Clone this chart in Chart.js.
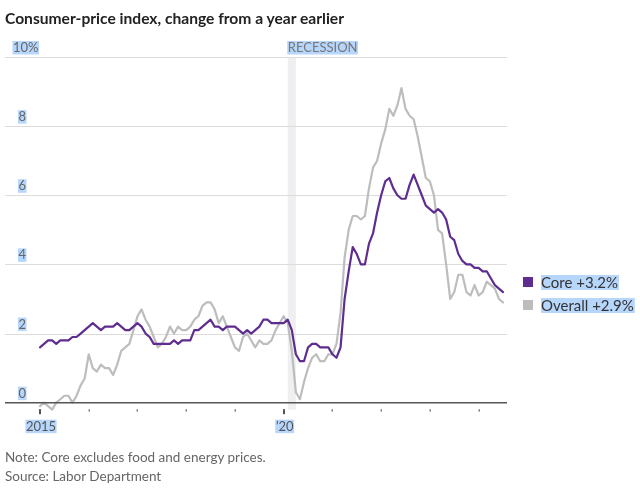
<!DOCTYPE html>
<html><head><meta charset="utf-8">
<script src="https://cdn.jsdelivr.net/npm/chart.js@4.4.1/dist/chart.umd.min.js"></script>
<style>
html,body{margin:0;padding:0;background:#fff;}
#wrap{position:relative;width:640px;height:490px;overflow:hidden;}
canvas{position:absolute;left:0;top:0;}
#title{position:absolute;left:5px;top:8px;font:700 15.6px Lato,sans-serif;line-height:20px;color:#222;white-space:nowrap;}
.note{position:absolute;left:5px;font:400 13.5px Lato,sans-serif;line-height:20px;color:#666;white-space:nowrap;}
</style></head>
<body>
<div id="wrap">
<canvas id="c" width="640" height="490"></canvas>
<div id="title">Consumer-price index, change from a year earlier</div>
<div class="note" style="top:447px">Note: Core excludes food and energy prices.</div>
<div class="note" style="top:466px">Source: Labor Department</div>
</div>
<script>
// Monthly data, January 2015 through July 2024 (year-over-year % change)
const startYear = 2015;
const core = [
  1.6,1.7,1.8,1.8,1.7,1.8,1.8,1.8,1.9,1.9,2.0,2.1,
  2.2,2.3,2.2,2.1,2.2,2.2,2.2,2.3,2.2,2.1,2.1,2.2,
  2.3,2.2,2.0,1.9,1.7,1.7,1.7,1.7,1.7,1.8,1.7,1.8,
  1.8,1.8,2.1,2.1,2.2,2.3,2.4,2.2,2.2,2.1,2.2,2.2,
  2.2,2.1,2.0,2.1,2.0,2.1,2.2,2.4,2.4,2.3,2.3,2.3,
  2.3,2.4,2.1,1.4,1.2,1.2,1.6,1.7,1.7,1.6,1.6,1.6,
  1.4,1.3,1.6,3.0,3.8,4.5,4.3,4.0,4.0,4.6,4.9,5.5,
  6.0,6.4,6.5,6.2,6.0,5.9,5.9,6.3,6.6,6.3,6.0,5.7,
  5.6,5.5,5.6,5.5,5.3,4.8,4.7,4.3,4.1,4.0,4.0,3.9,
  3.9,3.8,3.8,3.6,3.4,3.3,3.2
];
const overall = [
  -0.1,0.0,-0.1,-0.2,0.0,0.1,0.2,0.2,0.0,0.2,0.5,0.7,
  1.4,1.0,0.9,1.1,1.0,1.0,0.8,1.1,1.5,1.6,1.7,2.1,
  2.5,2.7,2.4,2.2,1.9,1.6,1.7,1.9,2.2,2.0,2.2,2.1,
  2.1,2.2,2.4,2.5,2.8,2.9,2.9,2.7,2.3,2.5,2.2,1.9,
  1.6,1.5,1.9,2.0,1.8,1.6,1.8,1.7,1.7,1.8,2.1,2.3,
  2.5,2.3,1.5,0.3,0.1,0.6,1.0,1.3,1.4,1.2,1.2,1.4,
  1.4,1.7,2.6,4.2,5.0,5.4,5.4,5.3,5.4,6.2,6.8,7.0,
  7.5,7.9,8.5,8.3,8.6,9.1,8.5,8.3,8.2,7.7,7.1,6.5,
  6.4,6.0,5.0,4.9,4.0,3.0,3.2,3.7,3.7,3.2,3.1,3.4,
  3.1,3.2,3.5,3.4,3.3,3.0,2.9
];
const yTicks = [0,2,4,6,8,10];
const xTickYears = [2015,2016,2017,2018,2019,2020,2021,2022,2023,2024];
const xTickLabels = {2015:'2015', 2020:'\u201920'};
const recession = [2020 + 1/12, 2020 + 3/12]; // Feb 2020 – Apr 2020
const seriesNames = ['Core +3.2%','Overall +2.9%'];

const CORE_COLOR = '#5e2d8f';
const OVERALL_COLOR = '#bdbdbd';
const HL = '#b7d6fb';
const FONT = 'Lato, sans-serif';

const toPts = arr => arr.map((v,i)=>({x: startYear + i/12, y: v}));

function hlText(ctx, text, x, y, align, font, color){
  ctx.font = font;
  const w = ctx.measureText(text).width;
  let left = x;
  if (align === 'right') left = x - w;
  else if (align === 'center') left = x - w/2;
  ctx.fillStyle = HL;
  ctx.fillRect(left - 0.5, y - 11, w + 1, 13.5);
  ctx.fillStyle = color;
  ctx.textAlign = 'left';
  ctx.textBaseline = 'alphabetic';
  ctx.fillText(text, left, y);
}

const decor = {
  id:'decor',
  beforeDatasetsDraw(chart){
    const {ctx, chartArea:a, scales:{x,y}} = chart;
    ctx.save();
    const rx0 = x.getPixelForValue(recession[0]);
    const rx1 = x.getPixelForValue(recession[1]);
    ctx.fillStyle = '#efeff1';
    ctx.fillRect(rx0, y.getPixelForValue(10), rx1 - rx0, y.getPixelForValue(-0.2) - y.getPixelForValue(10));
    ctx.strokeStyle = '#dcdcdc';
    ctx.lineWidth = 1;
    yTicks.forEach(v=>{
      if (v === 0) return;
      const py = Math.round(y.getPixelForValue(v)) + 0.5;
      ctx.beginPath(); ctx.moveTo(a.left, py); ctx.lineTo(a.right, py); ctx.stroke();
    });
    xTickYears.forEach(yr=>{
      const px = x.getPixelForValue(yr);
      const y0 = y.getPixelForValue(0);
      if (xTickLabels[yr]) {
        ctx.fillStyle = '#555';
        ctx.fillRect(Math.round(px) - 1, y0 + 6.5, 2, 5);
      } else {
        ctx.fillStyle = '#888';
        ctx.fillRect(Math.round(px) - 0.5, y0 + 6.5, 1.5, 2.5);
      }
    });
    ctx.restore();
  },
  afterDatasetsDraw(chart){
    const {ctx, chartArea:a, scales:{x,y}} = chart;
    ctx.save();
    const y0 = y.getPixelForValue(0);
    ctx.strokeStyle = '#555';
    ctx.lineWidth = 1.5;
    ctx.beginPath(); ctx.moveTo(a.left, y0); ctx.lineTo(a.right, y0); ctx.stroke();
    const lf = '13px ' + FONT;
    yTicks.forEach(v=>{
      const py = y.getPixelForValue(v);
      const txt = v === 10 ? '10%' : String(v);
      if (v === 10) hlText(ctx, txt, 13, py - 5, 'left', lf, '#666');
      else hlText(ctx, txt, 26, py - 5, 'right', lf, '#666');
    });
    xTickYears.forEach(yr=>{
      if (!xTickLabels[yr]) return;
      hlText(ctx, xTickLabels[yr], x.getPixelForValue(yr) + 1, y0 + 28, 'center', lf, '#555');
    });
    hlText(ctx, 'RECESSION', x.getPixelForValue(recession[0]), y.getPixelForValue(10) - 5, 'left', lf, '#777');
    const colors = [CORE_COLOR, OVERALL_COLOR];
    const ly = [282, 305];
    seriesNames.forEach((n,i)=>{
      ctx.fillStyle = colors[i];
      ctx.fillRect(523, ly[i] - 5, 10, 10);
      ctx.font = '15px ' + FONT;
      const w = ctx.measureText(n).width;
      ctx.fillStyle = HL;
      ctx.fillRect(541, ly[i] - 7, w + 1, 15);
      ctx.fillStyle = '#333';
      ctx.textAlign = 'left';
      ctx.fillText(n, 541, ly[i] + 5.5);
    });
    ctx.restore();
  }
};

new Chart(document.getElementById('c'), {
  type:'line',
  data:{
    datasets:[
      {label:'Core', data: toPts(core), borderColor: CORE_COLOR, borderWidth: 2.2, pointRadius: 0, clip: false, order: 0},
      {label:'Overall', data: toPts(overall), borderColor: OVERALL_COLOR, borderWidth: 2.2, pointRadius: 0, clip: false, order: 1}
    ]
  },
  options:{
    responsive:false,
    animation:false,
    devicePixelRatio:1,
    layout:{padding:{left:5, right:133, top:57, bottom:73.5}},
    scales:{
      x:{type:'linear', min:2014.282, max:2024.582, display:false},
      y:{min:-0.4, max:10, display:false}
    },
    plugins:{legend:{display:false}, tooltip:{enabled:false}},
    elements:{line:{tension:0, borderJoinStyle:'round', borderCapStyle:'round'}}
  },
  plugins:[decor]
});
</script>
</body></html>
